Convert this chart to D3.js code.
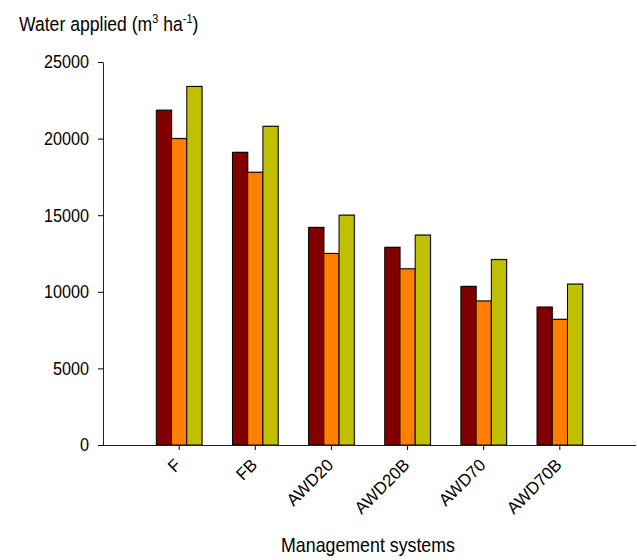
<!DOCTYPE html>
<html>
<head>
<meta charset="utf-8">
<script src="https://cdn.jsdelivr.net/npm/d3@7"></script>
<style>
  html, body { margin: 0; padding: 0; background: #fff; }
  svg text { font-family: "Liberation Sans", Arial, sans-serif; fill: #000; }
</style>
</head>
<body>
<svg id="chart" width="637" height="560"></svg>
<script>
// Management systems on the x axis
const categories = ["F", "FB", "AWD20", "AWD20B", "AWD70", "AWD70B"];
// Three series per system (m3 ha-1)
const seriesA = [21850, 19100, 14200, 12900, 10350, 9000];
const seriesB = [20000, 17800, 12500, 11500, 9400, 8200];
const seriesC = [23400, 20800, 15000, 13700, 12100, 10500];
const seriesColors = ["#800000", "#ff8000", "#c0c000"];
const yTicks = [0, 5000, 10000, 15000, 20000, 25000];

const svg = d3.select("#chart");
const plotLeft = 103, plotRight = 636, plotTop = 62, plotBottom = 445;
const stretch = 1.12; // text is drawn slightly taller than wide

const x = d3.scaleBand().domain(categories).range([plotLeft, plotRight])
  .paddingInner(0.4).paddingOuter(0.7);
const series = [seriesA, seriesB, seriesC];
const xs = d3.scaleBand().domain(d3.range(series.length)).range([0, x.bandwidth()]);
const y = d3.scaleLinear().domain([0, 25000]).range([plotBottom, plotTop]);

const rows = categories.map((c, i) => series.map((s, k) => ({ c, k, v: s[i] })));

const groups = svg.append("g").selectAll("g").data(rows).join("g")
  .attr("transform", (d, i) => `translate(${x(categories[i])},0)`);

// soft grey edge behind each bar
groups.selectAll("rect.shade").data(d => d).join("rect")
  .attr("class", "shade")
  .attr("x", d => xs(d.k) + 1)
  .attr("y", d => y(d.v) - 1)
  .attr("width", xs.bandwidth())
  .attr("height", d => plotBottom - y(d.v) + 1)
  .attr("fill", "#b8b8b8");

groups.selectAll("rect.bar").data(d => d).join("rect")
  .attr("class", "bar")
  .attr("x", d => xs(d.k))
  .attr("y", d => y(d.v))
  .attr("width", xs.bandwidth())
  .attr("height", d => plotBottom - y(d.v))
  .attr("fill", d => seriesColors[d.k])
  .attr("stroke", "#000")
  .attr("stroke-width", 1);

// y axis
const yAxis = svg.append("g").attr("transform", `translate(${plotLeft},0)`)
  .call(d3.axisLeft(y).tickValues(yTicks).tickSize(5).tickSizeOuter(0).tickPadding(9)
    .tickFormat(d3.format("d")));
yAxis.selectAll("text").style("font-size", "16.2px")
  .attr("transform", `scale(1,${stretch})`);
yAxis.select(".domain").attr("stroke", "#222");

// x axis
const xAxis = svg.append("g").attr("transform", `translate(0,${plotBottom})`)
  .call(d3.axisBottom(x).tickSize(5).tickSizeOuter(0));
xAxis.select(".domain").attr("stroke", "#222").attr("d", `M${plotLeft},0.5H${plotRight}`);
xAxis.selectAll("text")
  .style("font-size", "17px")
  .attr("text-anchor", "end")
  .attr("x", 0).attr("y", 0).attr("dy", 0)
  .attr("transform", "translate(3,21) rotate(-45)");

svg.append("text").attr("transform", `translate(19,31) scale(1,${stretch})`)
  .style("font-size", "17.6px")
  .html('Water applied (m<tspan dy="-7" font-size="11px">3</tspan><tspan dy="7"> ha</tspan><tspan dy="-7" font-size="11px">-1</tspan><tspan dy="7">)</tspan>');

svg.append("text").attr("transform", `translate(368,552) scale(1,${stretch})`)
  .attr("text-anchor", "middle")
  .style("font-size", "17.8px").text("Management systems");
</script>
</body>
</html>
